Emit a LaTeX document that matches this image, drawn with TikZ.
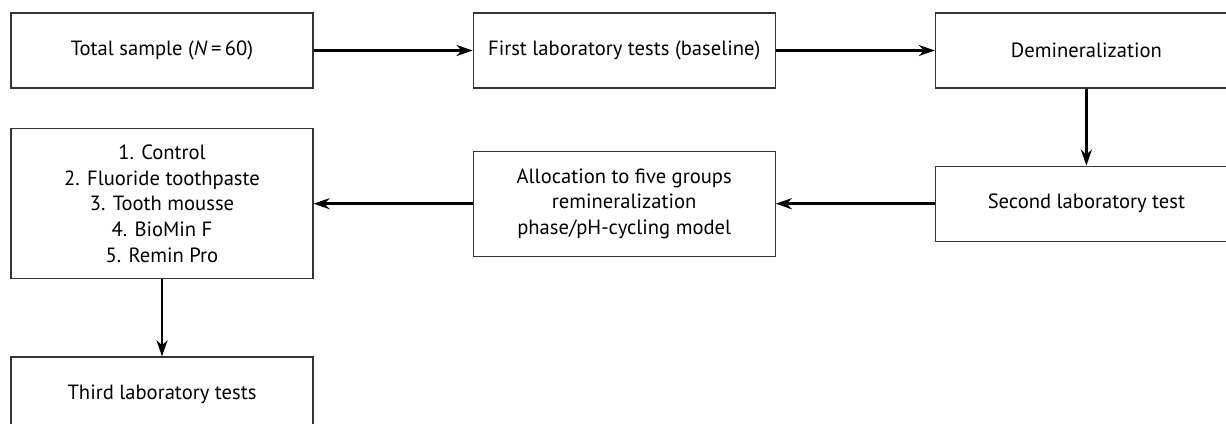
\documentclass[tikz,border=0pt]{standalone}
\usepackage{fontspec}
\setmainfont{PT Sans}
\usetikzlibrary{positioning,arrows.meta}

\tikzset{
  stage/.style={draw=black!80, line width=0.6pt, minimum width=151pt,
    minimum height=37.5pt, align=center, inner sep=2pt,
    font=\fontsize{10.3}{12.85}\selectfont},
  flow/.style={-{Stealth[length=8pt,width=5.5pt,inset=2.5pt]}, line width=1.3pt}
}

\begin{document}
\begin{tikzpicture}[x=0.5pt, y=-0.5pt, node distance=38.5pt and 79.5pt]
\useasboundingbox (0,0) rectangle (1226,423);
% top row
\node[stage] (total) at (162,50.5) {Total sample (\textit{N}\,=\,60)};
\node[stage, right=of total] (first) {First laboratory tests (baseline)};
\node[stage, right=of first] (demin) {Demineralization};
% middle row, right to left
\node[stage, below=of demin] (second) {Second laboratory test};
\node[stage, left=of second, minimum height=52.5pt] (alloc)
  {Allocation to five groups\\ remineralization\\ phase/pH-cycling model};
\node[stage, left=of alloc, minimum height=75pt] (groups)
  {1. Control\\ 2. Fluoride toothpaste\\ 3. Tooth mousse\\ 4. BioMin F\\ 5. Remin Pro};
% bottom
\node[stage, below=of groups] (third) {Third laboratory tests};

\draw[flow] (total) -- (first);
\draw[flow] (first) -- (demin);
\draw[flow] (demin) -- (second);
\draw[flow] (second) -- (alloc);
\draw[flow] (alloc) -- (groups);
\draw[flow] (groups) -- (third);
\end{tikzpicture}
\end{document}
